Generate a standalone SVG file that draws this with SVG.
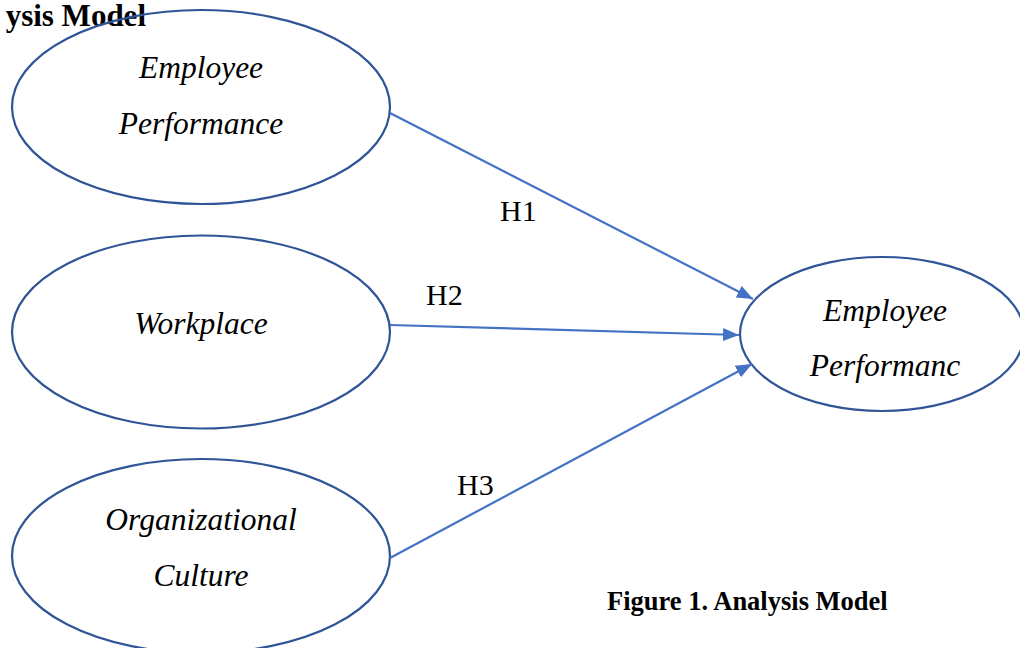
<svg xmlns="http://www.w3.org/2000/svg" width="1020" height="648" viewBox="0 0 1020 648">
<style>
.node{fill:none;stroke:#2F5597;stroke-width:2.2}
.lbl{font-family:"Liberation Serif","Times New Roman",serif;font-style:italic;font-size:31.5px;fill:#000;text-anchor:middle}
.h{font-family:"Liberation Serif","Times New Roman",serif;font-size:30px;fill:#000}
.cap{font-family:"Liberation Serif","Times New Roman",serif;font-weight:bold;font-size:26.5px;fill:#000}
.edge{stroke:#4472C4;stroke-width:2.2;fill:none}
</style>
<defs>
<marker id="arr" markerUnits="userSpaceOnUse" markerWidth="17" markerHeight="14" refX="16" refY="6.5" orient="auto">
<path d="M0,0 L16,6.5 L0,13 z" fill="#4472C4"/>
</marker>
</defs>
<rect width="1020" height="648" fill="#fff"/>
<text class="cap" x="146" y="26" text-anchor="end" style="font-size:31px">ysis Model</text>
<g id="n1">
<ellipse class="node" cx="201" cy="107" rx="189" ry="97"/>
<text class="lbl" x="201" y="78">Employee</text>
<text class="lbl" x="201" y="134">Performance</text>
</g>
<g id="n2">
<ellipse class="node" cx="201" cy="332" rx="189" ry="96.5"/>
<text class="lbl" x="201" y="334">Workplace</text>
</g>
<g id="n3">
<ellipse class="node" cx="201" cy="556" rx="189" ry="97"/>
<text class="lbl" x="201" y="530">Organizational</text>
<text class="lbl" x="201" y="586">Culture</text>
</g>
<g id="n4">
<ellipse class="node" cx="882" cy="334" rx="142" ry="77"/>
<text class="lbl" x="885" y="321">Employee</text>
<text class="lbl" x="885" y="376">Performanc</text>
</g>
<g id="edges">
<line class="edge" x1="390" y1="113" x2="753" y2="299" marker-end="url(#arr)"/>
<line class="edge" x1="390" y1="325" x2="739" y2="335" marker-end="url(#arr)"/>
<line class="edge" x1="390" y1="558" x2="752" y2="364" marker-end="url(#arr)"/>
<text class="h" x="500" y="221">H1</text>
<text class="h" x="426" y="305">H2</text>
<text class="h" x="457" y="495">H3</text>
</g>
<text class="cap" x="607" y="610">Figure 1. Analysis Model</text>
</svg>
